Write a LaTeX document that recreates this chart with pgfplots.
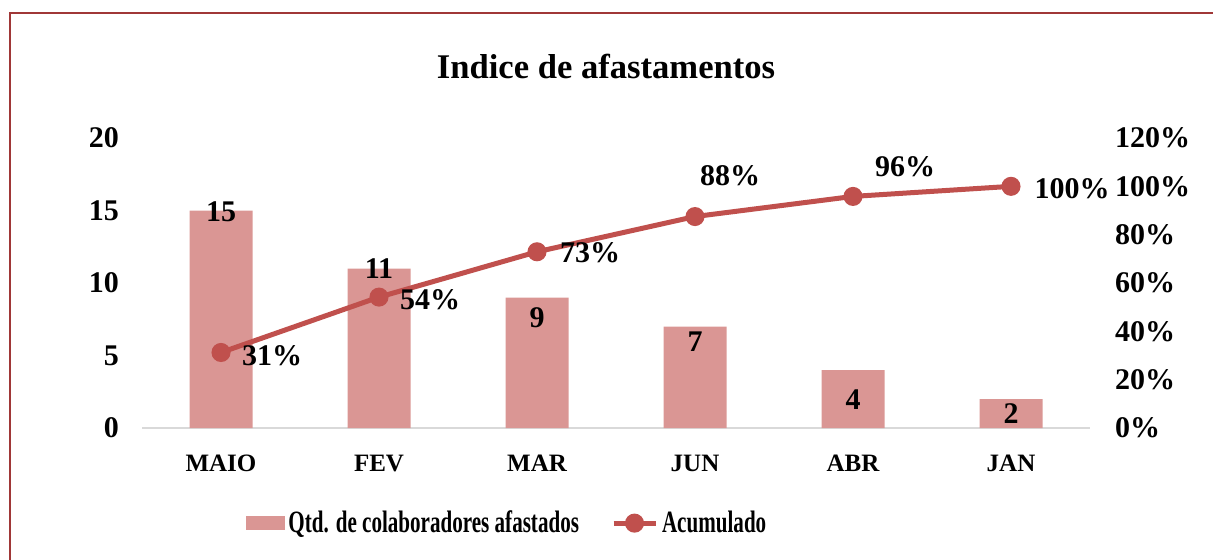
\documentclass[border=0pt]{standalone}
\usepackage{fontspec}
\setmainfont{Liberation Serif}
\newfontfamily\legfont[FakeStretch=0.68]{Liberation Serif}
\usepackage{pgfplots}
\pgfplotsset{compat=1.18}
\definecolor{barc}{RGB}{218,150,148}
\definecolor{linec}{RGB}{192,80,77}
\definecolor{framec}{RGB}{160,55,55}
\definecolor{axc}{RGB}{217,217,217}

% bars: x, value, label shift (pt, up is positive)
\pgfplotstableread{
x y off
0 15 -0.5
1 11 0
2 9 -10
3 7 -7.5
4 4 -15
5 2 -7.5
}\bars
% cumulative: x, percent, label shift, label text
\pgfplotstableread{
x y dx dy lab
0 31.25 25.5 -1.5 31
1 54.17 25.5 -1.5 54
2 72.92 26.5 -0.5 73
3 87.50 17.5 20.5 88
4 95.83 26 15 96
5 100 30.5 -1 100
}\cum

\pgfplotsset{
  common/.style={
    scale only axis,
    width=474pt, height=145pt,
    xmin=-0.5, xmax=5.5,
    major tick length=0pt,
    /pgf/number format/assume math mode=true,
    tick label style={font=\bfseries\fontsize{15}{17}\selectfont},
  }
}

\begin{document}
\begin{tikzpicture}
\useasboundingbox (0pt,0pt) rectangle (606.5pt,279.5pt);
\draw[framec, line width=1.1pt] (5pt,-2pt) -- (5pt,273pt) -- (612pt,273pt);
\node[font=\bfseries\fontsize{17.3}{20}\selectfont] at (303pt,246.5pt) {Indice de afastamentos};

\begin{axis}[common,
  at={(71pt,65.5pt)}, anchor=south west,
  axis x line*=bottom, axis y line*=left,
  x axis line style={axc, line width=1pt, -},
  y axis line style={draw=none},
  ymin=0, ymax=20, ytick={0,5,10,15,20},
  xtick={0,...,5}, xticklabels={MAIO,FEV,MAR,JUN,ABR,JAN},
  xticklabel style={font=\bfseries\fontsize{12.5}{15}\selectfont, yshift=-10pt},
  yticklabel style={xshift=-8pt},
  ybar, bar width=31.5pt,
  nodes near coords,
  visualization depends on={\thisrow{off} \as \off},
  every node near coord/.append style={anchor=center, yshift=\off pt,
    font=\bfseries\fontsize{15}{17}\selectfont, text=black},
]
\addplot[fill=barc, draw=none] table[x=x, y=y] {\bars};
\end{axis}

\begin{axis}[common,
  at={(71pt,65.5pt)}, anchor=south west,
  axis x line=none, axis y line*=right,
  y axis line style={draw=none},
  ymin=0, ymax=120, ytick={0,20,...,120},
  yticklabel={\pgfmathprintnumber{\tick}\%},
  yticklabel style={xshift=9pt},
  legend style={draw=none, at={(0.386,-0.328)}, anchor=center,
    legend columns=2, font=\legfont\bfseries\fontsize{15.5}{17}\selectfont,
    /tikz/every even column/.append style={column sep=14pt}},
]
\addlegendimage{legend image code/.code={\fill[barc] (0pt,-3.25pt) rectangle (19pt,3.25pt);}}
\addlegendentry{Qtd. de colaboradores afastados}
\addplot[linec, line width=2.5pt, mark=*, mark size=3.5pt,
  legend image code/.code={\draw[linec, line width=2.5pt] (0pt,0pt) -- (21pt,0pt);
    \fill[linec] (10.5pt,0pt) circle (3.5pt);},
  point meta=explicit symbolic,
  nodes near coords={\pgfplotspointmeta\%},
  visualization depends on={\thisrow{dx} \as \dx},
  visualization depends on={\thisrow{dy} \as \dy},
  every node near coord/.append style={anchor=center, xshift=\dx pt, yshift=\dy pt,
    font=\bfseries\fontsize{15}{17}\selectfont, text=black},
] table[x=x, y=y, meta=lab] {\cum};
\addlegendentry{Acumulado}
\end{axis}
\end{tikzpicture}
\end{document}
